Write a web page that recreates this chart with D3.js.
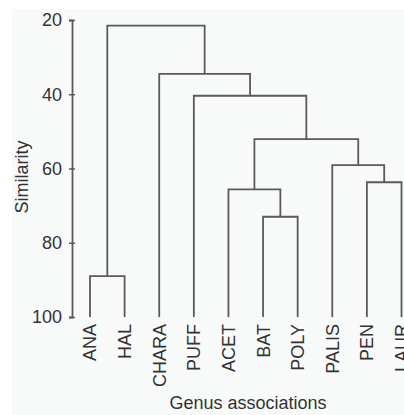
<!DOCTYPE html>
<html>
<head>
<meta charset="utf-8">
<script src="https://cdn.jsdelivr.net/npm/d3@7"></script>
<style>
  body { margin: 0; background: #ffffff; }
  svg { display: block; font-family: "Liberation Sans", Arial, sans-serif; }
</style>
</head>
<body>
<div id="wrapper"></div>
<script>
// leaves in display order
const leaves = ["ANA", "HAL", "CHARA", "PUFF", "ACET", "BAT", "POLY", "PALIS", "PEN", "LAUR"];
// merges: [left id, right id, similarity]; ids 0-9 are leaves, 10+ are merges in order
const mergeLeft = [0, 5, 8, 4, 7, 13, 3, 2, 10];
const mergeRight = [1, 6, 9, 11, 12, 14, 15, 16, 17];
const mergeSim = [89, 73, 63.7, 65.6, 59.1, 52.1, 40.4, 34.5, 21.5];
const yTicks = [20, 40, 60, 80, 100];

const width = 404, height = 415;
const ink = "#5a5a5a";

const svg = d3.select("#wrapper")
  .append("svg")
  .attr("width", width)
  .attr("height", height);

svg.append("rect")
  .attr("x", 12).attr("y", 9)
  .attr("width", width - 12).attr("height", height - 9)
  .attr("fill", "#f8fafa");

const xScale = d3.scalePoint()
  .domain(leaves)
  .range([90, 401.5]);

const yScale = d3.scaleLinear()
  .domain([20, 100])
  .range([20, 317]);

// node positions
const nodeX = leaves.map(d => xScale(d));
const nodeY = leaves.map(() => yScale(100));
mergeSim.forEach((s, i) => {
  const a = mergeLeft[i], b = mergeRight[i];
  nodeX.push((nodeX[a] + nodeX[b]) / 2);
  nodeY.push(yScale(s));
});

// dendrogram links
const links = svg.append("g")
  .attr("fill", "none")
  .attr("stroke", ink)
  .attr("stroke-width", 1.8);

mergeSim.forEach((s, i) => {
  const a = mergeLeft[i], b = mergeRight[i];
  const y = yScale(s);
  links.append("path")
    .attr("d", `M${nodeX[a]},${nodeY[a]}V${y}H${nodeX[b]}V${nodeY[b]}`);
});

// y axis
const yAxis = svg.append("g")
  .attr("transform", "translate(72,0)")
  .call(d3.axisLeft(yScale).tickValues(yTicks).tickSizeOuter(0).tickSize(3).tickPadding(7));
yAxis.select(".domain").attr("stroke", ink).attr("stroke-width", 1.8);
yAxis.selectAll(".tick line").attr("stroke", ink).attr("stroke-width", 1.5).attr("x2", -3).attr("x1", 3);
yAxis.selectAll(".tick text")
  .attr("fill", "#333")
  .style("font-size", "18px");

// leaf labels
svg.append("g")
  .selectAll("text")
  .data(leaves)
  .join("text")
  .attr("transform", d => `translate(${xScale(d)},324) rotate(-90)`)
  .attr("dy", "0.36em")
  .attr("text-anchor", "end")
  .attr("fill", "#333")
  .style("font-size", "18px")
  .text(d => d);

// axis titles
svg.append("text")
  .attr("x", 248)
  .attr("y", 409)
  .attr("text-anchor", "middle")
  .attr("fill", "#333")
  .style("font-size", "18px")
  .text("Genus associations");

svg.append("text")
  .attr("transform", "translate(22,177) rotate(-90)")
  .attr("dy", "0.36em")
  .attr("text-anchor", "middle")
  .attr("fill", "#333")
  .style("font-size", "18px")
  .text("Similarity");
</script>
</body>
</html>
